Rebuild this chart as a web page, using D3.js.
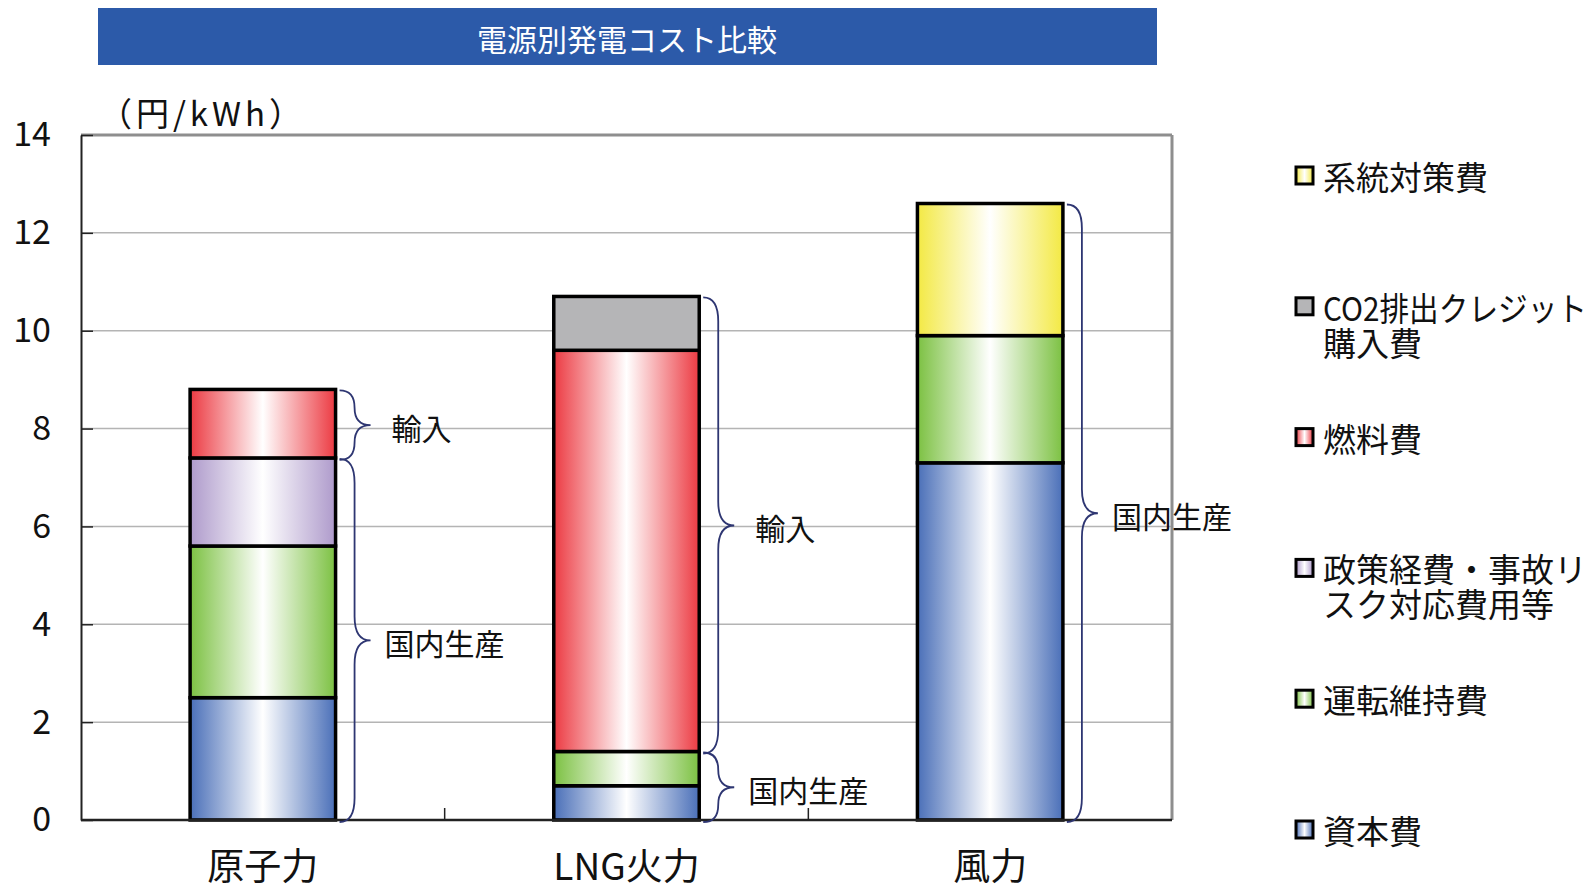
<!DOCTYPE html>
<html><head><meta charset="utf-8">
<script src="https://cdn.jsdelivr.net/npm/d3@7"></script>
<style>
body{margin:0;background:#fff;}
text{font-family:"Noto Sans CJK JP","Noto Sans",sans-serif;}
</style></head>
<body><svg id="chart" width="1595" height="889"></svg>
<script>
// ---- data ----
const title = "電源別発電コスト比較";
const unitLabel = "（円/kWh）";
const categories = ["原子力", "LNG火力", "風力"];
const seriesNames = ["資本費", "運転維持費", "政策経費・事故リスク対応費用等", "燃料費", "CO2排出クレジット購入費", "系統対策費"];
const capitalCost = [2.5, 0.7, 7.3];
const omCost = [3.1, 0.7, 2.6];
const policyCost = [1.8, 0, 0];
const fuelCost = [1.4, 8.2, 0];
const co2Cost = [0, 1.1, 0];
const gridCost = [0, 0, 2.7];
const seriesColors = ["#4a6fb8", "#7cc142", "#ae9acb", "#ec3a42", "#b5b5b7", "#f3e944"];
const seriesGradient = [true, true, true, true, false, true];
const importSeries = ["燃料費", "CO2排出クレジット購入費"];
const importLabel = "輸入";
const domesticLabel = "国内生産";
const legendOrder = ["系統対策費", "CO2排出クレジット購入費", "燃料費", "政策経費・事故リスク対応費用等", "運転維持費", "資本費"];
const legendLines = [["系統対策費"], ["CO2排出クレジット", "購入費"], ["燃料費"], ["政策経費・事故リ", "スク対応費用等"], ["運転維持費"], ["資本費"]];
const yTicks = [0, 2, 4, 6, 8, 10, 12, 14];

const seriesValues = [capitalCost, omCost, policyCost, fuelCost, co2Cost, gridCost];

// ---- layout ----
const svg = d3.select("#chart");
const L = 81, R = 1172, T = 135, B = 820;
const y = d3.scaleLinear().domain([0, 14]).range([B, T]);
const x = d3.scaleBand().domain(categories).range([L, R]).paddingInner(0.6).paddingOuter(0.3);

const defs = svg.append("defs");
seriesNames.forEach((s, i) => {
  const g = defs.append("linearGradient").attr("id", "g" + i).attr("x1", 0).attr("x2", 1).attr("y1", 0).attr("y2", 0);
  g.append("stop").attr("offset", 0).attr("stop-color", seriesColors[i]);
  g.append("stop").attr("offset", 0.5).attr("stop-color", "#ffffff");
  g.append("stop").attr("offset", 1).attr("stop-color", seriesColors[i]);
});
const fillOf = i => seriesGradient[i] ? `url(#g${i})` : seriesColors[i];

function fitText(sel, maxW) {
  sel.each(function () {
    const w = this.getComputedTextLength();
    if (w > maxW) d3.select(this).attr("textLength", maxW).attr("lengthAdjust", "spacingAndGlyphs");
  });
}

// title bar
svg.append("rect").attr("x", 98).attr("y", 8).attr("width", 1059).attr("height", 57).attr("fill", "#2c5aa9");
svg.append("text").attr("x", 627).attr("y", 38).attr("text-anchor", "middle").attr("dominant-baseline", "central")
  .attr("fill", "#fff").attr("font-size", 30).text(title);

// unit
svg.append("text").attr("x", 99).attr("y", 112).attr("dominant-baseline", "central")
  .attr("font-size", 33).attr("fill", "#111").attr("textLength", 203).attr("lengthAdjust", "spacing").text(unitLabel);

// gridlines
svg.append("g").selectAll("line").data(yTicks.filter(t => t > 0 && t < 14)).join("line")
  .attr("x1", L).attr("x2", R).attr("y1", d => y(d)).attr("y2", d => y(d))
  .attr("stroke", "#b4b4b4").attr("stroke-width", 1.5);

// plot frame top/right
svg.append("line").attr("x1", L).attr("x2", R).attr("y1", T).attr("y2", T).attr("stroke", "#8e8e8e").attr("stroke-width", 3);
svg.append("line").attr("x1", R).attr("x2", R).attr("y1", T).attr("y2", B).attr("stroke", "#8e8e8e").attr("stroke-width", 3);

// stacked data
const rows = categories.map((c, ci) => {
  const o = { cat: c };
  seriesNames.forEach((s, si) => o[s] = seriesValues[si][ci]);
  return o;
});
const stacked = d3.stack().keys(seriesNames)(rows);

const barsG = svg.append("g");
stacked.forEach((layer, si) => {
  barsG.selectAll(null).data(layer.filter(d => d[1] - d[0] > 0)).join("rect")
    .attr("x", d => x(d.data.cat)).attr("width", x.bandwidth())
    .attr("y", d => y(d[1])).attr("height", d => y(d[0]) - y(d[1]))
    .attr("fill", fillOf(si)).attr("stroke", "#000").attr("stroke-width", 3.5);
});

// axes
const yAxis = d3.axisLeft(y).tickValues(yTicks).tickSizeInner(-12).tickSizeOuter(0).tickPadding(30);
const ya = svg.append("g").attr("transform", `translate(${L},0)`).call(yAxis);
ya.select(".domain").attr("stroke", "#222").attr("stroke-width", 2);
ya.selectAll(".tick line").attr("stroke", "#222").attr("stroke-width", 1.5);
ya.selectAll(".tick text").attr("font-family", "'Liberation Sans',Arial,sans-serif").attr("font-size", 34).attr("fill", "#111");

svg.append("line").attr("x1", L).attr("x2", R).attr("y1", B).attr("y2", B).attr("stroke", "#222").attr("stroke-width", 2.5);
const bounds = d3.range(categories.length + 1).map(i => L + i * x.step());
svg.append("g").selectAll("line").data(bounds.slice(1, -1)).join("line")
  .attr("x1", d => d).attr("x2", d => d).attr("y1", B).attr("y2", B - 12).attr("stroke", "#222").attr("stroke-width", 1.5);

svg.append("g").selectAll("text").data(categories).join("text")
  .attr("x", d => x(d) + x.bandwidth() / 2).attr("y", 880).attr("text-anchor", "middle")
  .attr("font-size", 37).attr("fill", "#111").text(d => d);

// braces
function bracePath(x0, yt, yb) {
  const d1 = 15, d2 = 16;
  const x1 = x0 + d1, ym = (yt + yb) / 2;
  const r = Math.min(24, (yb - yt) / 4);
  return `M${x0},${yt} Q${x1},${yt} ${x1},${yt + r} L${x1},${ym - r} Q${x1},${ym} ${x1 + d2},${ym}` +
         ` Q${x1},${ym} ${x1},${ym + r} L${x1},${yb - r} Q${x1},${yb} ${x0},${yb}`;
}
const braces = [];
rows.forEach((row) => {
  let cum = 0;
  const segs = [];
  seriesNames.forEach(s => {
    const v = row[s];
    if (v > 0) segs.push({ imp: importSeries.includes(s), from: cum, to: cum + v });
    cum += v;
  });
  const groups = [];
  segs.forEach(sg => {
    const last = groups[groups.length - 1];
    if (last && last.imp === sg.imp) last.to = sg.to; else groups.push({ ...sg });
  });
  groups.forEach(g => braces.push({ cat: row.cat, ...g }));
});
const braceG = svg.append("g");
braces.forEach(b => {
  const x0 = x(b.cat) + x.bandwidth() + 4;
  const yt = y(b.to) + 1, yb = y(b.from) + 2;
  braceG.append("path").attr("d", bracePath(x0, yt, yb)).attr("fill", "none")
    .attr("stroke", "#2e3672").attr("stroke-width", 1.8);
  braceG.append("text").attr("x", x0 + 31 + (b.imp ? 21 : 14)).attr("y", (yt + yb) / 2 + 2)
    .attr("dominant-baseline", "central").attr("font-size", 30).attr("fill", "#111")
    .text(b.imp ? importLabel : domesticLabel);
});

// legend
const lg = svg.append("g");
legendOrder.forEach((name, i) => {
  const si = seriesNames.indexOf(name);
  const cy = 176 + i * 130.8;
  lg.append("rect").attr("x", 1296).attr("y", cy - 9).attr("width", 17).attr("height", 17)
    .attr("fill", fillOf(si)).attr("stroke", "#000").attr("stroke-width", 3);
  legendLines[i].forEach((ln, li) => {
    lg.append("text").attr("x", 1323).attr("y", cy + li * 35).attr("dominant-baseline", "central")
      .attr("font-size", 33).attr("fill", "#111").text(ln).call(fitText, 264);
  });
});
</script></body></html>
